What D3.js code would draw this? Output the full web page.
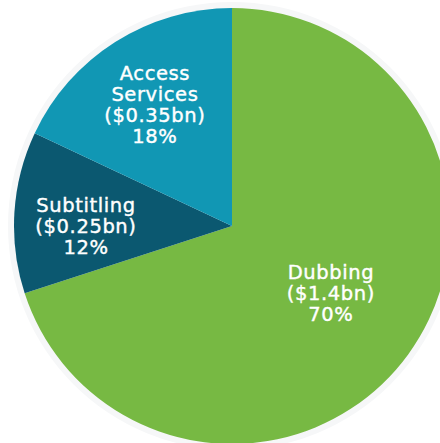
<!DOCTYPE html>
<html>
<head>
<meta charset="utf-8">
<script src="https://cdn.jsdelivr.net/npm/d3@7"></script>
<style>
  body { margin: 0; background: #fff; }
  svg { display: block; }
</style>
</head>
<body>
<script>
// slice data, clockwise from 12 o'clock
var segments = ["Dubbing", "Subtitling", "Access Services"];
var amounts = ["$1.4bn", "$0.25bn", "$0.35bn"];
var shares = [70, 12, 18];

var width = 440, height = 443;
var cx = 232, cy = 226, radius = 218;

var colors = d3.scaleOrdinal()
    .domain(segments)
    .range(["#77b943", "#0b5870", "#1197b4"]);

// label line splits + how far out each label sits (fraction of radius)
var labelLines = {
  "Dubbing": ["Dubbing"],
  "Subtitling": ["Subtitling"],
  "Access Services": ["Access", "Services"]
};
var labelPos = {"Dubbing": 0.547, "Subtitling": 0.67, "Access Services": 0.66};
var labelAngleShift = {"Dubbing": -0.036, "Subtitling": -0.063, "Access Services": 0};

var svg = d3.select("body").append("svg")
    .attr("width", width)
    .attr("height", height);

var g = svg.append("g")
    .attr("transform", "translate(" + cx + "," + cy + ")");

// soft halo round the pie
g.append("circle")
    .attr("r", radius + 6)
    .attr("fill", "#f6f7f8");

var pie = d3.pie()
    .sort(null)
    .value(function(d) { return d.share; });

var rows = segments.map(function(s, i) {
  return {name: s, amount: amounts[i], share: shares[i]};
});

var arcs = pie(rows);

var arc = d3.arc()
    .innerRadius(0)
    .outerRadius(radius);

g.selectAll("path")
    .data(arcs)
  .enter().append("path")
    .attr("d", arc)
    .attr("fill", function(d) { return colors(d.data.name); });

var lineH = 21;

var labels = g.selectAll("text.lbl")
    .data(arcs)
  .enter().append("text")
    .attr("class", "lbl")
    .attr("text-anchor", "middle")
    .attr("fill", "#fff")
    .attr("stroke", "#fff")
    .attr("stroke-width", 0.4)
    .style("font-family", "'DejaVu Sans', sans-serif")
    .style("font-size", "19.5px")
    .style("letter-spacing", "0.6px")
    .each(function(d) {
      var a = (d.startAngle + d.endAngle) / 2 + labelAngleShift[d.data.name];
      var r = radius * labelPos[d.data.name];
      var x = Math.sin(a) * r, y = -Math.cos(a) * r;
      var lines = labelLines[d.data.name].concat(["(" + d.data.amount + ")", d.data.share + "%"]);
      var y0 = y - (lines.length - 1) * lineH / 2 + 7;
      var t = d3.select(this);
      lines.forEach(function(l, i) {
        t.append("tspan")
          .attr("x", x)
          .attr("y", y0 + i * lineH)
          .text(l);
      });
    });
</script>
</body>
</html>
